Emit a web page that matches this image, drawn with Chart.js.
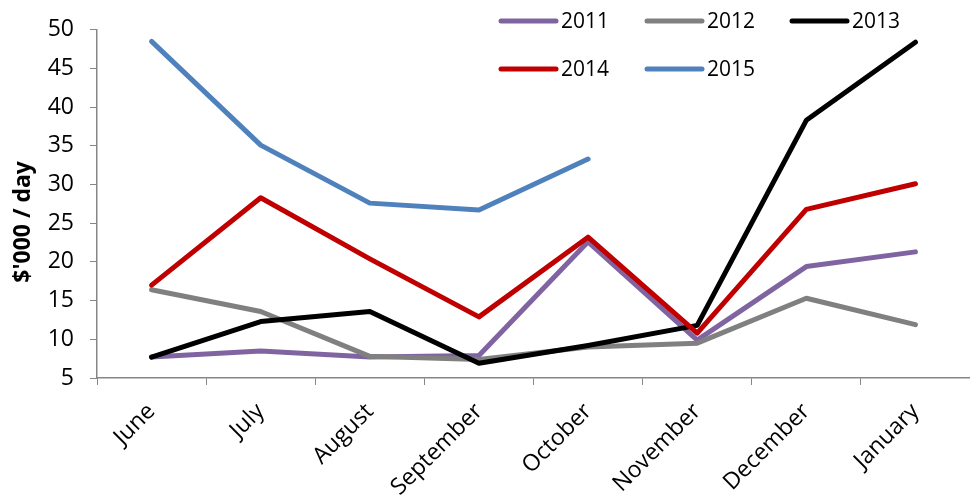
<!DOCTYPE html>
<html>
<head>
<meta charset="utf-8">
<script src="https://cdn.jsdelivr.net/npm/chart.js@4"></script>
<style>
  html, body { margin: 0; padding: 0; background: #fff; }
  #wrap { width: 970px; height: 498px; }
</style>
</head>
<body>
<div id="wrap"><canvas id="grafico"></canvas></div>
<script>
// data
const meses = ['June', 'July', 'August', 'September', 'October', 'November', 'December', 'January'];
const anos = ['2011', '2012', '2013', '2014', '2015'];
const v2011 = [7.7, 8.5, 7.7, 7.9, 22.6, 9.9, 19.4, 21.3];
const v2012 = [16.4, 13.6, 7.8, 7.4, 9.0, 9.5, 15.3, 11.9];
const v2013 = [7.7, 12.3, 13.6, 6.9, 9.2, 11.8, 38.3, 48.4];
const v2014 = [17.0, 28.3, 20.4, 12.9, 23.2, 10.8, 26.8, 30.1];
const v2015 = [48.5, 35.1, 27.6, 26.7, 33.3, null, null, null];
const yMin = 5, yMax = 50, yPasso = 5;

const cores = ['#8064A2', '#808080', '#000000', '#C00000', '#4F81BD'];
const valores = [v2011, v2012, v2013, v2014, v2015];
const eixoCor = '#868686';

// legend drawn inside the plot, top right, 3 columns
const legendaInterna = {
  id: 'legendaInterna',
  afterDraw(chart) {
    const c = chart.ctx;
    const colX = [501, 647, 792];
    const rowY = [21, 69];
    c.save();
    c.font = '21px "Open Sans"';
    c.textBaseline = 'middle';
    c.fillStyle = '#000';
    anos.forEach((ano, i) => {
      const x = colX[i % 3];
      const y = rowY[Math.floor(i / 3)];
      c.strokeStyle = cores[i];
      c.lineWidth = 5;
      c.lineCap = 'round';
      c.beginPath();
      c.moveTo(x, y);
      c.lineTo(x + 55, y);
      c.stroke();
      c.fillText(ano, x + 60, y + 1);
    });
    c.restore();
  }
};

// y title sits a bit below the middle of the axis in the original
const tituloY = {
  id: 'tituloY',
  afterDraw(chart) {
    const c = chart.ctx;
    const a = chart.chartArea;
    c.save();
    c.font = 'bold 23px "Open Sans"';
    c.fillStyle = '#000';
    c.textAlign = 'center';
    c.textBaseline = 'middle';
    c.translate(23, (a.top + a.bottom) / 2 + 18);
    c.rotate(-Math.PI / 2);
    c.fillText("$'000 / day", 0, 0);
    c.restore();
  }
};

let ctx = document.getElementById('grafico');

new Chart(ctx, {
  type: 'line',
  data: {
    labels: meses,
    datasets: anos.map((ano, i) => ({
      label: ano,
      data: valores[i],
      borderColor: cores[i],
      backgroundColor: cores[i],
      borderWidth: 5,
      pointRadius: 0,
      tension: 0,
      borderJoinStyle: 'round',
      borderCapStyle: 'round',
      spanGaps: false,
      order: anos.length - i
    }))
  },
  options: {
    responsive: true,
    maintainAspectRatio: false,
    animation: false,
    devicePixelRatio: 1,
    layout: {
      padding: { top: 27, right: 0, left: 0, bottom: 0 }
    },
    plugins: {
      legend: { display: false },
      tooltip: { enabled: false }
    },
    scales: {
      x: {
        offset: true,
        grid: {
          offset: true,
          drawOnChartArea: false,
          drawTicks: true,
          tickLength: 7,
          color: eixoCor
        },
        border: { display: true, color: eixoCor, width: 1.5 },
        ticks: {
          autoSkip: false,
          maxRotation: 45,
          minRotation: 45,
          padding: 13,
          color: '#000',
          font: { family: 'Open Sans', size: 23 }
        },
        afterFit(scale) { scale.height = 120; }
      },
      y: {
        min: yMin,
        max: yMax,
        grid: {
          drawOnChartArea: false,
          drawTicks: true,
          tickLength: 7,
          color: eixoCor
        },
        border: { display: true, color: eixoCor, width: 1.5 },
        ticks: {
          stepSize: yPasso,
          padding: 16,
          color: '#000',
          font: { family: 'Open Sans', size: 23 }
        },
        afterFit(scale) { scale.width = 97; }
      }
    }
  },
  plugins: [legendaInterna, tituloY]
});
</script>
</body>
</html>
